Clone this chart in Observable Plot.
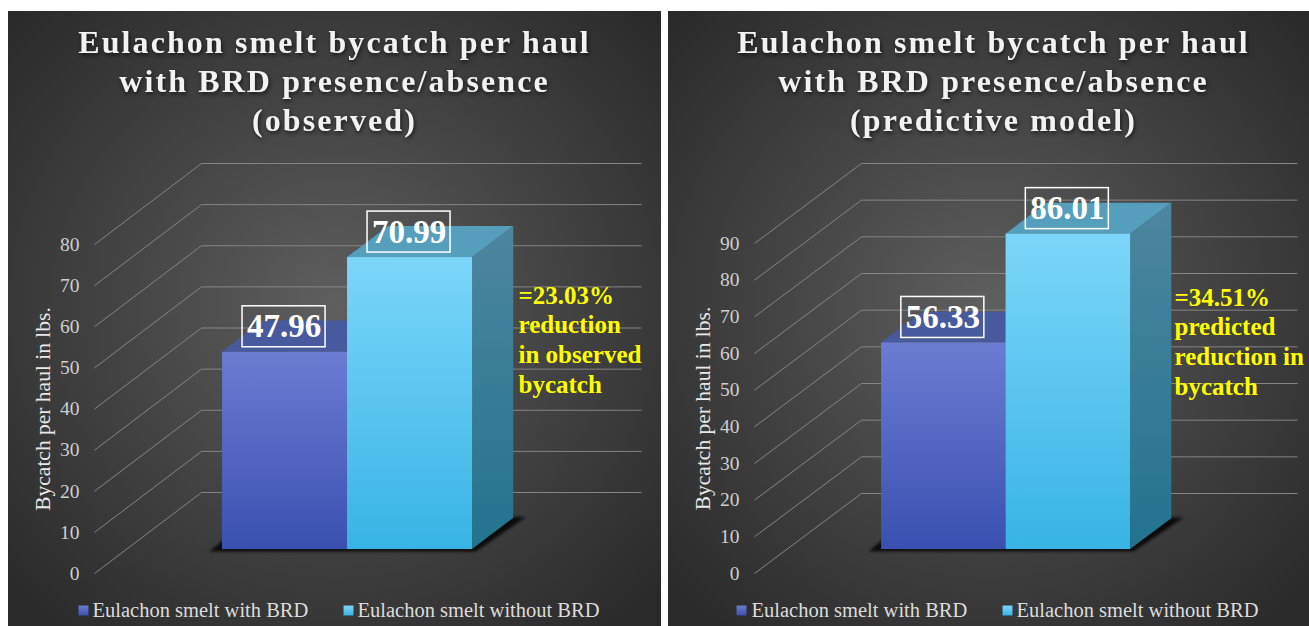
<!DOCTYPE html>
<html>
<head>
<meta charset="utf-8">
<script src="https://cdn.jsdelivr.net/npm/d3@7"></script>
<script src="https://cdn.jsdelivr.net/npm/@observablehq/plot@0.6"></script>
<style>
  html, body { margin: 0; padding: 0; background: #fff; }
  #page { position: relative; width: 1309px; height: 626px; overflow: hidden; }
  .title text { letter-spacing: 2.1px; }
  .title { filter: drop-shadow(1px 2px 2px rgba(0,0,0,0.65)); }
  .barshadow { filter: blur(1.5px); }
</style>
</head>
<body>
<div id="page"></div>
<script>
// ---- data ----
const categories = ["Eulachon smelt with BRD", "Eulachon smelt without BRD"];
const observedValues = [47.96, 70.99];
const predictedValues = [56.33, 86.01];
const observedTicks = [0, 10, 20, 30, 40, 50, 60, 70, 80];
const predictedTicks = [0, 10, 20, 30, 40, 50, 60, 70, 80, 90];
const yAxisLabel = "Bycatch per haul in lbs.";
const observedTitle = "Eulachon smelt bycatch per haul\nwith BRD presence/absence\n(observed)";
const predictedTitle = "Eulachon smelt bycatch per haul\nwith BRD presence/absence\n(predictive model)";
const observedNote = "=23.03%\nreduction\nin observed\nbycatch";
const predictedNote = "=34.51%\npredicted\nreduction in\nbycatch";

const SERIF = "'Liberation Serif', serif";

function gradient(defs, id, stops) {
  const g = defs.append("linearGradient").attr("id", id)
    .attr("x1", 0).attr("y1", 0).attr("x2", 0).attr("y2", 1);
  stops.forEach((c, i) => g.append("stop").attr("offset", i / (stops.length - 1)).attr("stop-color", c));
}

function panel(cfg) {
  const {id, left, top, width, height, values, ticks, title, note,
         marginLeft, marginRight, marginTop, marginBottom,
         unitPx, floorDx, floorDy, baseZ, depthZ, uLeft, spanUnits,
         titleX, noteX, noteY, labelOffset, legendSwatches, legendTexts} = cfg;

  const uRight = uLeft + spanUnits;
  const depthU = floorDx / unitPx;            // full floor depth, in bar-width units
  const vPerPx = (ticks[ticks.length - 1] - ticks[0]) / (height - marginTop - marginBottom);
  const depthV = floorDy * vPerPx;            // full floor depth, in value units

  // oblique projection of (u, value, z) into the chart's x and y scales
  const px = (u, z) => u + z * depthU;
  const py = (v, z) => v + z * depthV;
  const z0 = baseZ, z1 = baseZ + depthZ;

  const bars = categories.map((name, i) => ({name, i, value: values[i]}));
  const at = (xPx, yPx) => ({frameAnchor: "top-left", dx: xPx - left - marginLeft, dy: yPx - top - marginTop});
  const backGrid = ticks.map(t => ({t}));

  const sideFace = b => [
    {x: px(b.i + 1, z0), y1: py(0, z0), y2: py(b.value, z0)},
    {x: px(b.i + 1, z1), y1: py(0, z1), y2: py(b.value, z1)}
  ];
  const topFace = b => [
    {y: py(b.value, z0), x1: px(b.i, z0), x2: px(b.i + 1, z0)},
    {y: py(b.value, z1), x1: px(b.i, z1), x2: px(b.i + 1, z1)}
  ];
  const shadow = [
    {y: py(0, z0) - 0.6, x1: px(-0.10, z0), x2: px(2.03, z0)},
    {y: py(0, z1) + 0.2, x1: px(-0.10, z1), x2: px(2.10, z1)}
  ];

  const boxHalfX = 41.5 / unitPx;
  const boxHalfV = 20.5 * vPerPx;
  const boxCenter = b => py(b.value, z0) + 25.5 * vPerPx;
  const labelX = b => px(b.i + 0.5, z0) - 1 / unitPx;
  const legendY = 610;
  const swatchFill = [`url(#${id}-blue)`, `url(#${id}-cyan)`];

  return Plot.plot({
    width, height, marginLeft, marginRight, marginTop, marginBottom,
    x: {domain: [uLeft, uRight], axis: null},
    y: {domain: [ticks[0], ticks[ticks.length - 1]], axis: null},
    style: {
      position: "absolute", left: left + "px", top: top + "px",
      background: "radial-gradient(ellipse 68% 68% at 50% 48%, #5f5f5f 0%, #464646 45%, #2a2a2a 100%)",
      fontFamily: SERIF, color: "#d0d0d0"
    },
    marks: [
      () => {
        const defs = d3.create("svg:defs");
        gradient(defs, `${id}-blue`, ["#6b7cd2", "#3a50b0"]);
        gradient(defs, `${id}-cyan`, ["#7cd6f9", "#37b4e5"]);
        gradient(defs, `${id}-side`, ["#4d869f", "#23738f"]);
        return defs.node();
      },
      // grid: floor diagonals and back wall rules
      Plot.link(backGrid, {x1: uLeft, y1: d => d.t, x2: uLeft + depthU, y2: d => py(d.t, 1), stroke: "#858585", strokeWidth: 1}),
      Plot.link(backGrid, {x1: uLeft + depthU, y1: d => py(d.t, 1), x2: uRight + depthU, y2: d => py(d.t, 1), stroke: "#858585", strokeWidth: 1}),
      // floor shadow
      Plot.areaX(shadow, {x1: "x1", x2: "x2", y: "y", fill: "#0b0b0b", className: "barshadow"}),
      // 3D bars
      ...bars.flatMap(b => [
        Plot.areaY(sideFace(b), {x: "x", y1: "y1", y2: "y2", fill: `url(#${id}-side)`}),
        Plot.areaX(topFace(b), {x1: "x1", x2: "x2", y: "y", fill: b.i === 0 ? "#485a9e" : "#559fbd"})
      ]),
      Plot.rect(bars, {
        x1: d => px(d.i, z0), x2: d => px(d.i + 1, z0),
        y1: py(0, z0), y2: d => py(d.value, z0),
        fill: d => swatchFill[d.i]
      }),
      // value labels
      Plot.rect(bars, {
        x1: d => labelX(d) - boxHalfX, x2: d => labelX(d) + boxHalfX,
        y1: d => boxCenter(d) - boxHalfV, y2: d => boxCenter(d) + boxHalfV,
        fill: "none", stroke: "#ffffff", strokeWidth: 1.5
      }),
      Plot.text(bars, {
        x: labelX, y: boxCenter, text: d => d3.format(".2f")(d.value),
        fill: "#ffffff", fontSize: 33, fontWeight: "bold", fontFamily: SERIF
      }),
      // axis
      Plot.axisY(ticks, {anchor: "left", tickSize: 0, tickPadding: 15, fontSize: 19.5, fontFamily: SERIF, color: "#cfcfcf", label: null}),
      Plot.text([yAxisLabel], {
        frameAnchor: "left", textAnchor: "middle", dx: -labelOffset, rotate: -90,
        fontSize: 21.5, fontFamily: SERIF, fill: "#e8e8e8"
      }),
      // title
      Plot.text([title], {
        ...at(titleX, top + 14), textAnchor: "middle", lineAnchor: "top", lineHeight: 1.215,
        fontSize: 32, fontWeight: "bold", fontFamily: SERIF, fill: "#f2f2f2", className: "title"
      }),
      // annotation
      Plot.text([note], {
        ...at(noteX, noteY), textAnchor: "start", lineAnchor: "top", lineHeight: 1.19,
        fontSize: 25, fontWeight: "bold", fontFamily: SERIF, fill: "#ffff00"
      }),
      // legend
      ...categories.flatMap((name, i) => [
        Plot.dot([name], {...at(legendSwatches[i], legendY), symbol: "square", r: 5.6, fill: swatchFill[i]}),
        Plot.text([name], {
          ...at(legendTexts[i], legendY), textAnchor: "start", lineAnchor: "middle",
          fontSize: 20.5, fontFamily: SERIF, fill: "#dcdcdc"
        })
      ])
    ]
  });
}

const page = document.getElementById("page");
page.append(panel({
  id: "obs", left: 8, top: 11, width: 653, height: 615,
  values: observedValues, ticks: observedTicks, title: observedTitle, note: observedNote,
  marginLeft: 86, marginRight: 127, marginTop: 233, marginBottom: 53,
  unitPx: 125, floorDx: 107, floorDy: 81, baseZ: 0.296, depthZ: 0.385,
  uLeft: -0.771, spanUnits: 440 / 125,
  titleX: 334, noteX: 518, noteY: 282, labelOffset: 51,
  legendSwatches: [83, 348], legendTexts: [92, 357]
}));
page.append(panel({
  id: "pred", left: 668, top: 11, width: 641, height: 615,
  values: predictedValues, ticks: predictedTicks, title: predictedTitle, note: predictedNote,
  marginLeft: 86, marginRight: 119, marginTop: 232, marginBottom: 53,
  unitPx: 124.5, floorDx: 107, floorDy: 80, baseZ: 0.3, depthZ: 0.385,
  uLeft: -0.763, spanUnits: 436 / 124.5,
  titleX: 993, noteX: 1174, noteY: 284, labelOffset: 51,
  legendSwatches: [741, 1007], legendTexts: [751, 1016]
}));
</script>
</body>
</html>
